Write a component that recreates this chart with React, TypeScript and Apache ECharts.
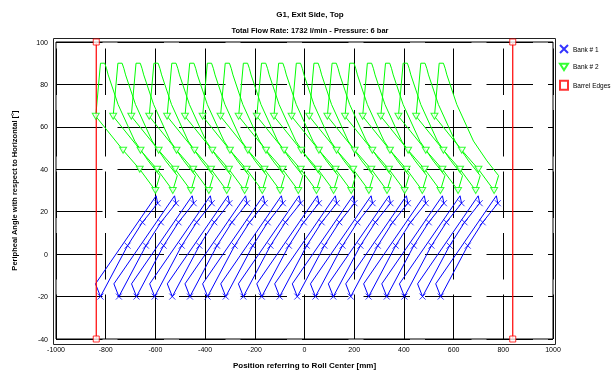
import React, { useEffect, useRef } from "react";
import * as echarts from "echarts";

// Nozzle positions [mm]
const bank1Pos = [-821, -747, -676, -603, -532, -461, -390, -317, -246, -172, -100, -29, 44, 116, 186, 258, 331, 402, 475, 548];
const bank2Pos = [-840, -770, -697, -625, -553, -481, -410, -338, -265, -192, -123, -52, 19, 92, 163, 234, 307, 378, 449, 523];

// marker rows (angle) and their shift from the nozzle position
const bank1RowAngle = [-20, 4, 15, 24];
const bank1RowShift = [0, 109, 169, 230];
const bank2RowAngle = [65, 49, 40, 30];
const bank2RowShift = [0, 110, 177, 240];

// outline of one spray footprint, relative to the nozzle position
const bank1OutlineDx = [0, 109, 169, 230, 224, -20, 0];
const bank1OutlineAng = [-20, 4, 15, 24, 27.5, -14, -20];
const bank2OutlineDx = [0, 19, 36, 43, 50, 90, 157, 211, 258, 240, 177, 110, 0];
const bank2OutlineAng = [65, 90, 90, 87.6, 84.5, 70.5, 53.3, 44, 37, 30, 40, 49, 65];

const barrelEdgeX = [-838, 838];
const barrelEdgeAng = [100, -40];

const BLUE = "#0000ff";
const GREEN = "#00ff00";
const RED = "#ff0000";
const FONT = "Liberation Sans";

export default function App() {
  const ref = useRef<HTMLDivElement>(null);
  useEffect(() => {
    const chart = echarts.init(ref.current!, null, { renderer: "svg" });
    const series: any[] = [];
    bank1Pos.forEach((p, i) => {
      series.push({
        type: "line",
        name: "b1o" + i,
        data: bank1OutlineDx.map((d, k) => [p + d, bank1OutlineAng[k]]),
        symbol: "none",
        lineStyle: { color: BLUE, width: 1 },
        silent: true,
        z: 2,
      });
    });
    bank2Pos.forEach((p, i) => {
      series.push({
        type: "line",
        name: "b2o" + i,
        data: bank2OutlineDx.map((d, k) => [p + d, bank2OutlineAng[k]]),
        symbol: "none",
        lineStyle: { color: GREEN, width: 1 },
        silent: true,
        z: 2,
      });
    });
    barrelEdgeX.forEach((x, i) => {
      series.push({
        type: "line",
        name: "edge" + i,
        data: barrelEdgeAng.map((a) => [x, a]),
        symbol: "none",
        lineStyle: { color: RED, width: 1.2 },
        silent: true,
        z: 3,
      });
    });
    const b1pts: number[][] = [];
    bank1Pos.forEach((p) => bank1RowAngle.forEach((a, k) => b1pts.push([p + bank1RowShift[k], a])));
    const b2pts: number[][] = [];
    bank2Pos.forEach((p) => bank2RowAngle.forEach((a, k) => b2pts.push([p + bank2RowShift[k], a])));
    const edgePts: number[][] = [];
    barrelEdgeX.forEach((x) => barrelEdgeAng.forEach((a) => edgePts.push([x, a])));
    series.push({
      type: "scatter",
      name: "Bank # 1",
      data: b1pts,
      symbol: "path://M0,0L10,10M10,0L0,10",
      symbolSize: 6,
      itemStyle: { color: BLUE, borderColor: BLUE, borderWidth: 1 },
      z: 4,
    });
    series.push({
      type: "scatter",
      name: "Bank # 2",
      data: b2pts,
      symbol: "path://M0,0L10,0L5,8Z",
      symbolSize: [7, 6],
      itemStyle: { color: "#ffffff", borderColor: GREEN, borderWidth: 1 },
      z: 4,
    });
    series.push({
      type: "scatter",
      name: "Barrel Edges",
      data: edgePts,
      symbol: "rect",
      symbolSize: 6,
      itemStyle: { color: "#ffffff", borderColor: RED, borderWidth: 1 },
      z: 5,
    });

    const option: any = {
      animation: false,
      textStyle: { fontFamily: FONT },
      title: [
        {
          text: "G1, Exit Side, Top",
          left: 305,
          top: 5,
          textAlign: "center",
          textStyle: { fontSize: 8, fontWeight: "bold", color: "#000", fontFamily: FONT },
        },
        {
          text: "Total Flow Rate: 1732 l/min - Pressure: 6 bar",
          left: 305,
          top: 21,
          textAlign: "center",
          textStyle: { fontSize: 7.5, fontWeight: "bold", color: "#000", fontFamily: FONT },
        },
      ],
      legend: {
        orient: "vertical",
        left: 559,
        top: 44,
        itemWidth: 8,
        itemHeight: 9,
        itemGap: 8.7,
        padding: 0,
        data: ["Bank # 1", "Bank # 2", "Barrel Edges"],
        textStyle: { fontSize: 6.5, color: "#000", fontFamily: FONT },
      },
      grid: { left: 56, right: 59, top: 42, bottom: 32, show: true, borderColor: "#000", borderWidth: 1 },
      xAxis: {
        type: "value",
        min: -1000,
        max: 1000,
        interval: 200,
        name: "Position referring to Roll Center [mm]",
        nameLocation: "middle",
        nameGap: 22,
        nameTextStyle: { fontSize: 8, fontWeight: "bold", color: "#000" },
        axisLine: { show: false },
        axisTick: { show: false },
        axisLabel: { fontSize: 7, color: "#000", margin: 7, formatter: (v: number) => String(v) },
        splitLine: { show: true, lineStyle: { color: "#000", width: 1, type: [46.5, 15], dashOffset: 54.5 } },
      },
      yAxis: {
        type: "value",
        min: -40,
        max: 100,
        interval: 20,
        name: "Peripheal Angle with respect to Horizontal [°]",
        nameLocation: "middle",
        nameGap: 38,
        nameTextStyle: { fontSize: 7.5, fontWeight: "bold", color: "#000" },
        axisLine: { show: false },
        axisTick: { show: false },
        axisLabel: { fontSize: 7, color: "#000", margin: 8, formatter: (v: number) => String(v) },
        splitLine: { show: true, lineStyle: { color: "#000", width: 1, type: [46.5, 15], dashOffset: 0 } },
      },
      graphic: [
        {
          type: "rect",
          shape: { x: 53.5, y: 38.5, width: 502, height: 306 },
          style: { fill: "none", stroke: "#222", lineWidth: 1 },
          silent: true,
        },
      ],
      series,
    };
    chart.setOption(option);
    return () => chart.dispose();
  }, []);
  return <div ref={ref} style={{ position: "fixed", left: 0, top: 0, width: 612, height: 374 }} />;
}
